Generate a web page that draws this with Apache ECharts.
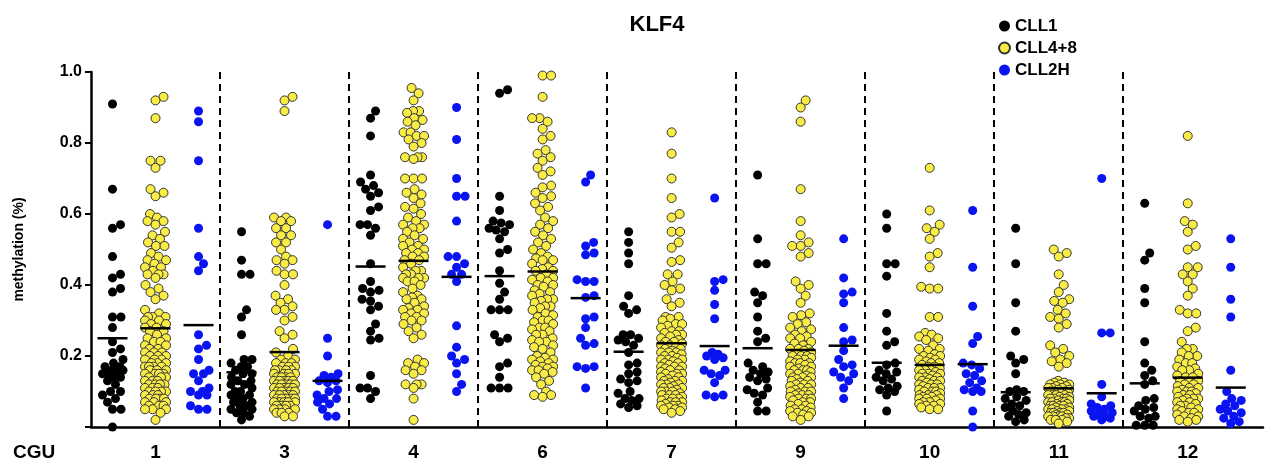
<!DOCTYPE html>
<html>
<head>
<meta charset="utf-8">
<script src="https://cdn.jsdelivr.net/npm/echarts@6/dist/echarts.min.js"></script>
<style>
  html, body { margin: 0; padding: 0; background: #fff; }
  #chart { width: 1266px; height: 468px; }
</style>
</head>
<body>
<div id="chart"></div>
<script>
// CGU groups along the x axis
var groups = ['1', '3', '4', '6', '7', '9', '10', '11', '12'];
var seriesNames = ['CLL1', 'CLL4+8', 'CLL2H'];

// methylation values, one list per CGU
var cll1 = [
  [0.91,0.67,0.57,0.56,0.48,0.43,0.42,0.39,0.38,0.31,0.31,0.28,0.24,0.22,0.21,0.19,0.18,0.17,0.17,0.16,0.16,0.16,0.15,0.15,0.14,0.14,0.13,0.12,0.10,0.10,0.09,0.08,0.07,0.05,0.05,0.0],
  [0.55,0.47,0.43,0.43,0.33,0.31,0.26,0.19,0.19,0.18,0.17,0.17,0.16,0.15,0.15,0.14,0.13,0.13,0.12,0.12,0.11,0.10,0.10,0.09,0.09,0.08,0.08,0.07,0.07,0.06,0.06,0.05,0.05,0.04,0.04,0.03,0.02],
  [0.89,0.87,0.82,0.71,0.69,0.68,0.67,0.66,0.65,0.62,0.61,0.57,0.57,0.56,0.54,0.46,0.41,0.39,0.385,0.38,0.36,0.355,0.34,0.33,0.29,0.27,0.25,0.245,0.145,0.11,0.11,0.10,0.08],
  [0.95,0.94,0.65,0.61,0.58,0.575,0.57,0.56,0.555,0.55,0.53,0.50,0.49,0.44,0.405,0.38,0.36,0.33,0.33,0.33,0.26,0.25,0.24,0.18,0.17,0.14,0.11,0.11,0.11],
  [0.55,0.52,0.49,0.46,0.37,0.34,0.33,0.32,0.26,0.26,0.25,0.245,0.24,0.23,0.21,0.18,0.175,0.155,0.15,0.135,0.13,0.125,0.10,0.095,0.08,0.08,0.075,0.065,0.06,0.055],
  [0.71,0.53,0.46,0.46,0.38,0.37,0.35,0.31,0.27,0.25,0.24,0.18,0.17,0.16,0.155,0.15,0.14,0.135,0.13,0.11,0.105,0.095,0.09,0.07,0.045,0.045],
  [0.60,0.56,0.46,0.46,0.425,0.32,0.27,0.24,0.23,0.18,0.175,0.16,0.155,0.15,0.14,0.135,0.13,0.115,0.11,0.105,0.10,0.09,0.045],
  [0.56,0.46,0.35,0.27,0.20,0.19,0.18,0.15,0.105,0.10,0.10,0.085,0.08,0.075,0.065,0.06,0.055,0.045,0.04,0.035,0.03,0.02,0.015],
  [0.63,0.49,0.47,0.39,0.35,0.24,0.18,0.16,0.145,0.13,0.12,0.08,0.075,0.06,0.055,0.05,0.045,0.03,0.03,0.025,0.005,0.005,0.005]
];

var cll48 = [
  [0.93,0.92,0.87,0.75,0.75,0.73,0.67,0.66,0.65,0.60,0.59,0.58,0.58,0.57,0.55,0.54,0.53,0.52,0.51,0.51,0.49,0.48,0.47,0.47,0.46,0.45,0.45,0.44,0.43,0.43,0.43,0.42,0.40,0.39,0.38,0.37,0.36,0.33,0.32,0.31,0.31,0.31,
   0.30,0.30,0.29,0.29,0.28,0.28,0.27,0.27,0.26,0.25,0.25,0.24,0.24,0.23,0.23,0.22,0.22,0.21,0.21,0.21,0.20,0.20,0.20,0.19,0.19,0.19,0.18,0.18,0.18,0.17,0.17,0.17,0.17,0.16,0.16,0.16,0.15,0.15,0.15,0.15,0.14,0.14,0.14,0.13,0.13,0.13,0.12,0.12,0.12,0.12,0.11,0.11,0.11,0.10,0.10,0.10,0.10,0.09,0.09,0.09,0.08,0.08,0.08,0.08,0.07,0.07,0.07,0.06,0.06,0.06,0.05,0.05,0.05,0.04,0.02],
  [0.93,0.92,0.89,0.59,0.59,0.58,0.58,0.56,0.56,0.54,0.54,0.52,0.52,0.50,0.48,0.47,0.47,0.46,0.44,0.43,0.43,0.40,0.37,0.36,0.35,0.34,0.33,0.33,0.31,0.30,0.27,0.26,0.25,
   0.22,0.21,0.20,0.19,0.19,0.18,0.18,0.18,0.17,0.17,0.17,0.16,0.16,0.16,0.16,0.15,0.15,0.15,0.15,0.14,0.14,0.14,0.14,0.13,0.13,0.13,0.13,0.13,0.12,0.12,0.12,0.12,0.12,0.11,0.11,0.11,0.11,0.11,0.10,0.10,0.10,0.10,0.10,0.09,0.09,0.09,0.09,0.09,0.08,0.08,0.08,0.08,0.08,0.07,0.07,0.07,0.07,0.07,0.06,0.06,0.06,0.06,0.05,0.05,0.05,0.05,0.04,0.04,0.04,0.03,0.03],
  [0.955,0.94,0.92,0.89,0.89,0.885,0.87,0.865,0.86,0.85,0.83,0.83,0.82,0.82,0.81,0.80,0.79,0.76,0.76,0.76,0.755,0.70,0.70,0.70,0.67,0.66,0.655,0.645,0.63,0.62,0.615,0.60,0.59,0.58,0.57,0.57,0.56,0.56,0.55,0.54,0.53,0.53,0.52,0.51,0.51,0.50,0.50,0.49,0.49,0.48,0.48,0.47,0.47,0.46,0.45,0.44,0.44,0.43,0.43,0.42,0.42,0.42,0.41,0.41,0.40,0.39,0.38,0.37,0.365,0.36,0.36,0.35,0.34,0.335,0.33,0.33,0.32,0.32,0.31,0.31,0.30,0.30,0.29,0.28,0.27,0.26,0.25,0.19,0.18,0.18,0.17,0.16,0.16,0.15,0.12,0.12,0.12,0.11,0.08,0.02],
  [0.99,0.99,0.93,0.87,0.87,0.86,0.84,0.82,0.81,0.78,0.77,0.76,0.75,0.73,0.72,0.71,0.68,0.675,0.66,0.65,0.645,0.63,0.62,0.61,0.59,0.58,0.57,0.56,0.55,0.54,0.53,0.52,0.51,0.50,0.49,0.48,0.475,0.47,0.47,0.46,0.45,0.445,0.44,0.44,0.43,0.42,0.42,0.415,0.41,0.40,0.40,0.395,0.385,0.38,0.375,0.37,0.36,0.36,0.355,0.35,0.34,0.34,0.335,0.33,0.32,0.315,0.31,0.30,0.30,0.295,0.29,0.28,0.28,0.275,0.27,0.26,0.26,0.25,0.245,0.24,0.24,0.23,0.225,0.22,0.21,0.20,0.195,0.19,0.19,0.185,0.18,0.175,0.17,0.17,0.165,0.16,0.16,0.155,0.15,0.14,0.13,0.12,0.10,0.09,0.09,0.085],
  [0.83,0.77,0.70,0.645,0.60,0.59,0.55,0.55,0.52,0.505,0.47,0.465,0.43,0.43,0.41,0.40,0.39,0.385,0.36,0.35,0.34,0.31,0.31,0.305,0.30,0.29,0.29,0.285,0.28,0.27,0.27,0.265,0.26,0.26,0.255,0.25,0.245,0.24,0.24,0.235,0.23,0.23,0.225,0.22,0.22,0.215,0.21,0.21,0.21,0.205,0.20,0.20,0.195,0.19,0.19,0.19,0.185,0.18,0.18,0.175,0.17,0.17,0.17,0.165,0.16,0.16,0.155,0.15,0.15,0.15,0.145,0.14,0.14,0.135,0.13,0.13,0.13,0.125,0.12,0.12,0.12,0.115,0.11,0.11,0.11,0.105,0.10,0.10,0.10,0.095,0.09,0.09,0.09,0.085,0.08,0.08,0.08,0.075,0.07,0.07,0.07,0.065,0.06,0.06,0.06,0.055,0.055,0.05,0.05,0.045,0.04],
  [0.92,0.90,0.86,0.67,0.58,0.54,0.52,0.51,0.51,0.49,0.48,0.41,0.40,0.39,0.37,0.35,0.32,0.315,0.31,0.295,0.29,0.28,0.275,0.27,0.26,0.255,0.25,0.25,0.24,0.235,0.23,0.22,0.22,0.22,0.215,0.21,0.205,0.20,0.20,0.20,0.195,0.19,0.19,0.185,0.18,0.18,0.18,0.175,0.17,0.17,0.165,0.16,0.16,0.16,0.155,0.15,0.15,0.145,0.14,0.14,0.14,0.135,0.13,0.13,0.125,0.12,0.12,0.12,0.115,0.11,0.11,0.105,0.10,0.10,0.10,0.095,0.09,0.09,0.09,0.085,0.08,0.08,0.08,0.075,0.07,0.07,0.065,0.06,0.06,0.055,0.05,0.05,0.045,0.045,0.04,0.04,0.035,0.03,0.03,0.02],
  [0.73,0.61,0.57,0.56,0.55,0.53,0.49,0.48,0.45,0.395,0.39,0.39,0.31,0.31,0.265,0.26,0.255,0.25,0.245,0.23,0.22,0.22,0.215,0.205,0.20,0.20,0.195,0.19,0.19,0.185,0.18,0.18,0.175,0.17,0.17,0.165,0.16,0.16,0.16,0.155,0.15,0.15,0.15,0.145,0.14,0.14,0.14,0.135,0.13,0.13,0.13,0.125,0.12,0.12,0.12,0.115,0.11,0.11,0.11,0.105,0.10,0.10,0.10,0.095,0.09,0.09,0.09,0.085,0.085,0.08,0.08,0.08,0.075,0.07,0.07,0.065,0.065,0.06,0.06,0.055,0.05,0.05],
  [0.50,0.49,0.48,0.43,0.40,0.38,0.36,0.355,0.35,0.33,0.32,0.31,0.305,0.29,0.28,0.23,0.22,0.21,0.20,0.19,0.185,0.18,0.17,
   0.13,0.125,0.125,0.12,0.12,0.12,0.115,0.115,0.11,0.11,0.11,0.105,0.105,0.10,0.10,0.10,0.095,0.095,0.09,0.09,0.09,0.09,0.085,0.085,0.08,0.08,0.08,0.08,0.075,0.075,0.07,0.07,0.07,0.07,0.065,0.065,0.06,0.06,0.06,0.06,0.055,0.055,0.05,0.05,0.05,0.05,0.045,0.045,0.04,0.04,0.04,0.04,0.035,0.035,0.03,0.03,0.03,0.03,0.025,0.025,0.02,0.02,0.02,0.015,0.01],
  [0.82,0.63,0.58,0.57,0.55,0.51,0.50,0.45,0.45,0.43,0.43,0.41,0.39,0.37,0.33,0.32,0.32,0.28,0.27,0.24,0.22,0.22,0.21,0.20,0.20,0.19,0.18,0.18,0.17,0.165,0.16,0.16,0.15,0.145,0.14,0.14,0.13,0.13,0.125,0.12,0.12,0.115,0.11,0.11,0.105,0.10,0.10,0.10,0.095,0.09,0.09,0.085,0.08,0.08,0.08,0.075,0.07,0.07,0.065,0.06,0.06,0.055,0.05,0.05,0.045,0.04,0.04,0.035,0.03,0.03,0.025,0.02,0.02,0.015]
];

var cll2h = [
  [0.89,0.86,0.75,0.56,0.48,0.46,0.44,0.26,0.23,0.22,0.19,0.16,0.15,0.15,0.13,0.11,0.10,0.10,0.09,0.09,0.06,0.05,0.05],
  [0.57,0.25,0.20,0.15,0.145,0.14,0.13,0.13,0.125,0.105,0.10,0.09,0.08,0.08,0.07,0.065,0.05,0.03,0.03],
  [0.90,0.81,0.70,0.65,0.65,0.58,0.48,0.48,0.46,0.45,0.43,0.43,0.41,0.285,0.225,0.20,0.19,0.18,0.15,0.12,0.10],
  [0.71,0.69,0.52,0.51,0.49,0.485,0.415,0.41,0.41,0.37,0.365,0.31,0.305,0.28,0.25,0.235,0.23,0.17,0.17,0.165,0.11],
  [0.645,0.415,0.41,0.385,0.345,0.305,0.21,0.205,0.20,0.195,0.19,0.16,0.16,0.15,0.145,0.125,0.09,0.09,0.085],
  [0.53,0.42,0.38,0.375,0.35,0.28,0.245,0.24,0.215,0.19,0.175,0.17,0.155,0.15,0.14,0.13,0.11,0.08],
  [0.61,0.45,0.34,0.255,0.235,0.18,0.175,0.165,0.15,0.145,0.13,0.125,0.11,0.105,0.10,0.10,0.045,0.0],
  [0.70,0.265,0.265,0.12,0.085,0.065,0.06,0.055,0.05,0.045,0.04,0.035,0.03,0.03,0.025,0.02],
  [0.53,0.45,0.36,0.31,0.16,0.10,0.08,0.075,0.065,0.06,0.05,0.045,0.04,0.03,0.025,0.015,0.01]
];

// mean bars as drawn in the figure
var cll1Mean  = [0.25, 0.154, 0.452, 0.425, 0.212, 0.222, 0.181, 0.098, 0.123];
var cll48Mean = [0.278, 0.211, 0.468, 0.438, 0.236, 0.217, 0.175, 0.109, 0.139];
var cll2hMean = [0.287, 0.13, 0.423, 0.363, 0.228, 0.229, 0.177, 0.095, 0.111];

var colors = ['#000000', '#f9ec45', '#0a14f0'];
var FONT = 'Liberation Sans';

// layout of the plot area (px)
var GRID_LEFT = 91, GRID_TOP = 72, GRID_H = 355, GRID_RIGHT = 2;
var X_MAX = 27.25;
var UNIT_PX = (1266 - GRID_LEFT - GRID_RIGHT) / X_MAX;
var Y_PX = GRID_H; // px for 1.0

// simple capped beeswarm: offsets in px
function swarmOffsets(vals, d, maxHalf) {
  var idx = vals.map(function (v, i) { return i; }).sort(function (a, b) { return vals[a] - vals[b]; });
  var placed = [];
  var out = new Array(vals.length);
  idx.forEach(function (i) {
    var y = vals[i] * Y_PX;
    var near = placed.filter(function (p) { return Math.abs(p[1] - y) < d; });
    var bestX = 0, bestScore = -1;
    for (var k = 0; ; k++) {
      var x = (k % 2 ? 1 : -1) * Math.ceil(k / 2) * 0.5;
      if (Math.abs(x) > maxHalf) break;
      var minD = Infinity;
      near.forEach(function (p) {
        var dd = Math.sqrt((p[0] - x) * (p[0] - x) + (p[1] - y) * (p[1] - y));
        if (dd < minD) minD = dd;
      });
      if (minD >= d) { bestX = x; break; }
      if (minD > bestScore) { bestScore = minD; bestX = x; }
    }
    placed.push([bestX, y]);
    out[i] = bestX;
  });
  return out;
}

function slotX(g, s) { return 1.5 + 3 * g + (s - 1); }

function buildPoints(lists, s) {
  var pts = [];
  lists.forEach(function (vals, g) {
    var offs = swarmOffsets(vals, 8.5, 10.5);
    vals.forEach(function (v, i) {
      pts.push([slotX(g, s) + offs[i] / UNIT_PX, v]);
    });
  });
  return pts;
}

function buildMeans(means, s) {
  return means.map(function (m, g) { return [slotX(g, s), m]; });
}

var allValues = [cll1, cll48, cll2h];
var allMeans = [cll1Mean, cll48Mean, cll2hMean];

var series = [];
seriesNames.forEach(function (name, s) {
  series.push({
    name: name,
    type: 'scatter',
    symbol: 'circle',
    symbolSize: 9,
    itemStyle: {
      color: colors[s],
      borderColor: s === 1 ? '#333' : colors[s],
      borderWidth: s === 1 ? 1 : 0,
      opacity: 1
    },
    emphasis: { disabled: true },
    data: buildPoints(allValues[s], s),
    z: 3
  });
});
allMeans.forEach(function (means, s) {
  series.push({
    type: 'custom',
    name: 'mean' + s,
    silent: true,
    z: 5,
    renderItem: function (params, api) {
      var p = api.coord([api.value(0), api.value(1)]);
      return {
        type: 'line',
        shape: { x1: p[0] - 15, y1: p[1], x2: p[0] + 15, y2: p[1] },
        style: { stroke: '#000', lineWidth: 2.5 }
      };
    },
    data: buildMeans(means, s)
  });
});
// dashed separators between CGU groups
series.push({
  type: 'scatter',
  name: 'sep',
  data: [],
  silent: true,
  markLine: {
    silent: true,
    symbol: ['none', 'none'],
    label: { show: false },
    lineStyle: { color: '#000', type: [7, 5], width: 2 },
    data: groups.slice(1).map(function (g, i) { return { xAxis: 3 * (i + 1) }; })
  }
});

var myChart = echarts.init(document.getElementById('chart'));
var option = {
  animation: false,
  backgroundColor: '#fff',
  title: {
    text: 'KLF4',
    left: 652,
    top: 9,
    textAlign: 'center',
    textStyle: { fontFamily: FONT, fontWeight: 'bold', fontSize: 22, color: '#000' }
  },
  legend: {
    data: seriesNames,
    orient: 'vertical',
    left: 993,
    top: 12,
    icon: 'circle',
    itemWidth: 11,
    itemHeight: 11,
    itemGap: 4,
    textStyle: { fontFamily: FONT, fontWeight: 'bold', fontSize: 17, color: '#000', lineHeight: 18 }
  },
  grid: { left: GRID_LEFT, top: GRID_TOP, height: GRID_H, right: GRID_RIGHT },
  xAxis: {
    type: 'value',
    min: 0,
    max: X_MAX,
    interval: 1.5,
    axisLine: { show: true, onZero: false, lineStyle: { color: '#000', width: 2.5 } },
    axisTick: { show: false },
    splitLine: { show: false },
    axisLabel: {
      margin: 16,
      fontFamily: FONT,
      fontWeight: 'bold',
      fontSize: 19,
      color: '#000',
      formatter: function (v) {
        var k = (v - 1.5) / 3;
        if (Math.abs(k - Math.round(k)) < 1e-6 && groups[Math.round(k)] !== undefined) return groups[Math.round(k)];
        return '';
      }
    }
  },
  yAxis: {
    type: 'value',
    min: 0,
    max: 1,
    interval: 0.2,
    name: 'methylation (%)',
    nameLocation: 'middle',
    nameGap: 65,
    nameTextStyle: { fontFamily: FONT, fontWeight: 'bold', fontSize: 14, color: '#000' },
    axisLine: { show: true, lineStyle: { color: '#000', width: 2.5 } },
    axisTick: { show: true, length: 6, lineStyle: { color: '#000', width: 2 } },
    splitLine: { show: false },
    axisLabel: {
      margin: 9,
      fontFamily: FONT,
      fontWeight: 'bold',
      fontSize: 16,
      color: '#000',
      formatter: function (v) { return v === 0 ? '' : v.toFixed(1); }
    }
  },
  graphic: [{
    type: 'text',
    left: 13,
    top: 443,
    style: { text: 'CGU', fontFamily: FONT, fontWeight: 'bold', fontSize: 19, fill: '#000' }
  }],
  series: series
};
myChart.setOption(option);
</script>
</body>
</html>
